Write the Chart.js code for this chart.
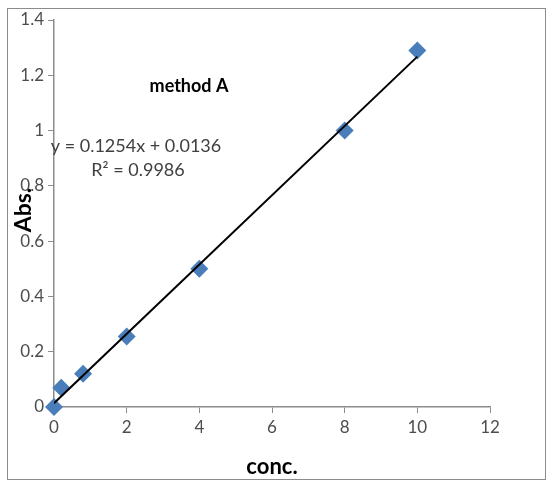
<!DOCTYPE html>
<html>
<head>
<meta charset="utf-8">
<script src="https://cdn.jsdelivr.net/npm/chart.js@4"></script>
<style>
  html, body { margin: 0; padding: 0; background: #fff; }
  #wrap { width: 546px; height: 481px; position: relative; }
</style>
</head>
<body>
<div id="wrap"><canvas id="chart" width="546" height="481"></canvas></div>
<script>
// dados
const conc = [0, 0.2, 0.8, 2, 4, 8, 10];
const abs = [0, 0.07, 0.12, 0.255, 0.5, 1.0, 1.29];
// linha de tendência (pontos extremos)
const trendX = [0, 10];
const trendY = [0.0136, 1.2676];
const titulo = "method A";
const equacao = "y = 0.1254x + 0.0136";
const r2 = "R² = 0.9986";

const FONTE = "Lato, 'Open Sans', sans-serif";

// moldura e textos da área do gráfico
const extras = {
    id: "extras",
    beforeDraw(chart) {
        const c = chart.ctx;
        c.save();
        c.fillStyle = "#fff";
        c.fillRect(0, 0, chart.width, chart.height);
        c.strokeStyle = "#8c8c8c";
        c.lineWidth = 1;
        c.strokeRect(7.5, 8.5, 538, 471);
        c.restore();
    },
    afterDraw(chart) {
        const c = chart.ctx;
        c.save();
        c.fillStyle = "#000";
        c.font = "bold 18px " + FONTE;
        c.textAlign = "center";
        c.textBaseline = "middle";
        c.fillText(titulo, 189, 86);
        c.fillStyle = "#404040";
        c.font = "18px " + FONTE;
        c.fillText(equacao, 136, 146);
        c.fillText(r2, 138, 170);
        // título do eixo y, sobre os rótulos como no original
        c.fillStyle = "#000";
        c.font = "bold 23px " + FONTE;
        c.translate(24, 210);
        c.rotate(-Math.PI / 2);
        c.fillText("Abs.", 0, 0);
        c.restore();
    }
};

new Chart(document.getElementById("chart").getContext("2d"), {
    type: "scatter",
    data: {
        datasets: [{
            label: "Abs.",
            data: conc.map((x, i) => ({ x: x, y: abs[i] })),
            pointStyle: "rectRot",
            pointRadius: 9,
            backgroundColor: "#4a7ebb",
            borderColor: "#4a7ebb",
            borderWidth: 0,
            clip: false,
            order: 2
        }, {
            label: "Linear",
            type: "line",
            data: trendX.map((x, i) => ({ x: x, y: trendY[i] })),
            borderColor: "#000",
            borderWidth: 2,
            pointRadius: 0,
            fill: false,
            order: 1
        }]
    },
    options: {
        responsive: false,
        animation: false,
        layout: { padding: { left: 0, top: 20, right: 56, bottom: 0 } },
        plugins: { legend: { display: false }, tooltip: { enabled: false } },
        scales: {
            x: {
                type: "linear",
                min: 0, max: 12,
                ticks: { stepSize: 2, color: "#4d4d4d", font: { family: FONTE, size: 17 }, padding: 4 },
                grid: { display: true, drawOnChartArea: false, tickLength: 6, color: "#8c8c8c" },
                border: { color: "#8c8c8c", width: 1.5 },
                title: { display: true, text: "conc.", color: "#000", font: { family: FONTE, size: 22, weight: "bold" }, padding: { top: 6, bottom: 1 } },
                afterFit: s => { s.height = 74; }
            },
            y: {
                min: 0, max: 1.4,
                ticks: { stepSize: 0.2, color: "#4d4d4d", font: { family: FONTE, size: 17 }, padding: 4,
                    callback: v => Math.round(v * 10) / 10 },
                grid: { display: true, drawOnChartArea: false, tickLength: 6, color: "#8c8c8c" },
                border: { color: "#8c8c8c", width: 1.5 },
                afterFit: s => { s.width = 54; }
            }
        }
    },
    plugins: [extras]
});
</script>
</body>
</html>
